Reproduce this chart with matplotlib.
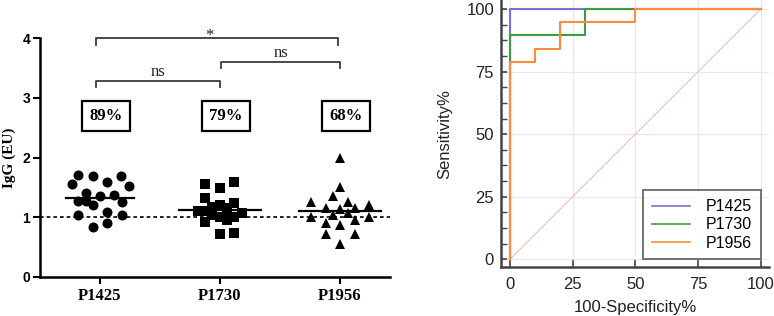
import matplotlib
matplotlib.use("Agg")
import matplotlib.pyplot as plt
import numpy as np

# ---- left panel data: IgG (EU) per peptide ----
groups = ["P1425", "P1730", "P1956"]
markers = ["o", "s", "^"]

p1425_dx = [-0.18, -0.06, 0.175, -0.235, 0.06, 0.24, -0.12, -0.18, 0.0,
            -0.06, 0.12, 0.18, -0.18, 0.06, 0.18, -0.06, 0.06, -0.12]
p1425_val = [1.71, 1.69, 1.70, 1.56, 1.59, 1.53, 1.40, 1.28, 1.35,
             1.20, 1.38, 1.26, 1.04, 1.09, 1.04, 0.83, 0.90, 1.27]

p1730_dx = [-0.125, 0.0, 0.12, -0.125, -0.18, -0.125, -0.065, 0.0, 0.055,
            0.12, 0.18, 0.0, 0.055, -0.065, 0.12, 0.0, 0.12, -0.125, 0.055]
p1730_val = [1.56, 1.49, 1.60, 1.32, 1.10, 0.93, 1.18, 1.21, 1.10,
             1.24, 1.07, 1.01, 0.96, 1.04, 1.01, 0.72, 0.74, 1.10, 1.15]

p1956_dx = [0.0, 0.0, -0.055, -0.24, 0.065, 0.245, -0.12, 0.125, 0.0,
            -0.24, 0.245, -0.055, 0.065, -0.12, 0.125, 0.0, -0.12, 0.125, 0.0]
p1956_val = [2.00, 1.50, 1.36, 1.25, 1.25, 1.21, 1.16, 1.16, 1.14,
             1.01, 1.01, 1.04, 1.07, 0.90, 0.96, 0.87, 0.72, 0.72, 0.55]

group_means = [1.32, 1.12, 1.10]
mean_halfwidth = [0.28, 0.34, 0.34]
positive_pct = ["89%", "79%", "68%"]
cutoff = 1.0

# significance brackets: (from, to, label, height)
brackets = [(0, 2, "*", 4.0), (1, 2, "ns", 3.61), (0, 1, "ns", 3.29)]

# ---- right panel data: ROC curves ----
roc_names = ["P1425", "P1730", "P1956"]
roc_colors = ["#7474d6", "#3c9e3c", "#ff8a3d"]
roc_fpr = [
    [0, 0, 100],
    [0, 0, 30, 30, 100],
    [0, 0, 10, 10, 20, 20, 50, 50, 100],
]
roc_tpr = [
    [0, 100, 100],
    [0, 89.47, 89.47, 100, 100],
    [0, 78.95, 78.95, 84.21, 84.21, 94.74, 94.74, 100, 100],
]

serif = ["Liberation Serif", "DejaVu Serif"]
sans = ["Liberation Sans", "DejaVu Sans"]

fig = plt.figure(figsize=(7.74, 3.16), dpi=100)

# ================= left panel =================
ax = fig.add_axes([40 / 774, 39 / 316, 350 / 774, 238.7 / 316])
xs = [p1425_dx, p1730_dx, p1956_dx]
ys = [p1425_val, p1730_val, p1956_val]
msizes = [7.2, 7.0, 7.6]
for i in range(3):
    ax.plot(i + np.array(xs[i]), ys[i], linestyle="none", marker=markers[i],
            markersize=msizes[i], color="black", markeredgewidth=0, zorder=3)
    hw = mean_halfwidth[i]
    ax.plot([i - hw, i + hw], [group_means[i]] * 2, color="black", lw=1.6,
            zorder=4)
    ax.text(i + 0.05, 2.69, positive_pct[i], ha="center", va="center",
            family=serif, fontweight="bold", fontsize=12,
            bbox=dict(boxstyle="square,pad=0.42", fc="white", ec="black",
                      lw=1.6))

ax.axhline(cutoff, color="black", lw=1.2, linestyle=(0, (2.2, 1.8)), zorder=2)

for a, b, lab, h in brackets:
    x0 = a - 0.03 if a == 0 else a + 0.01
    x1 = b - 0.02 if b == 2 and a == 0 else b
    ax.plot([x0, x0, x1, x1], [h - 0.11, h, h, h - 0.11], color="#3a3a3a",
            lw=1.3, clip_on=False)
    if lab == "*":
        ax.text((x0 + x1) / 2 - 0.06, h - 0.03, lab, ha="center",
                va="baseline", family=serif, fontsize=12, color="#222222")
    else:
        ax.text((x0 + x1) / 2, h + 0.075, lab, ha="center", va="baseline",
                family=serif, fontsize=12, color="#222222")

ax.set_xlim(-0.5, 2.417)
ax.set_ylim(0, 4)
ax.set_xticks(range(3))
ax.set_xticklabels(groups, family=serif, fontweight="bold", fontsize=12)
ax.set_yticks([0, 1, 2, 3, 4])
ax.set_yticklabels(["0", "1", "2", "3", "4"], family=sans, fontweight="bold",
                   fontsize=10)
ax.tick_params(axis="both", direction="out", length=5, width=1.5,
               color="black", pad=2)
ax.tick_params(axis="x", pad=3)
for s in ["top", "right"]:
    ax.spines[s].set_visible(False)
for s in ["left", "bottom"]:
    ax.spines[s].set_linewidth(1.8)
ax.set_ylabel("IgG (EU)", family=serif, fontweight="bold", fontsize=11,
              labelpad=5)

# ================= right panel =================
ax2 = fig.add_axes([501 / 774, (316 - 267.3) / 316, 268 / 774, 267.3 / 316])
ax2.plot([0, 100], [0, 100], color="#f0c4bc", lw=0.9, zorder=1)
for name, fx, ty, c in zip(roc_names, roc_fpr, roc_tpr, roc_colors):
    ax2.plot(fx, ty, color=c, lw=1.5, label=name, zorder=3)

ax2.set_xlim(-3.6, 103.3)
ax2.set_ylim(-3.2, 103.6)
ax2.set_xticks([0, 25, 50, 75, 100])
ax2.set_yticks([0, 25, 50, 75, 100])
ax2.set_yticks(np.arange(0, 100.1, 6.25), minor=True)
ax2.grid(True, which="major", color="#e8e8e8", lw=0.9, zorder=0)
ax2.set_axisbelow(True)
ax2.tick_params(axis="both", which="major", direction="in", length=6,
                width=1.2, color="#444444", labelsize=12, pad=7)
ax2.tick_params(axis="y", which="major", length=4, pad=5)
ax2.tick_params(axis="y", which="minor", direction="in", length=4,
                width=1.0, color="#444444")
for lab in ax2.get_xticklabels() + ax2.get_yticklabels():
    lab.set_family(sans)
    lab.set_color("#222222")
for s in ["top", "right"]:
    ax2.spines[s].set_visible(False)
for s in ["left", "bottom"]:
    ax2.spines[s].set_linewidth(1.8)
    ax2.spines[s].set_color("#444444")
ax2.set_xlabel("100-Specificity%", family=sans, fontsize=12, color="#222222",
               labelpad=6)
ax2.set_ylabel("Sensitivity%", family=sans, fontsize=12, color="#222222",
               labelpad=10)
leg = ax2.legend(loc="lower right", bbox_to_anchor=(100, 0),
                 bbox_transform=ax2.transData, borderaxespad=0,
                 prop={"family": sans, "size": 11.5}, frameon=True,
                 fancybox=False, edgecolor="#444444", handlelength=2.4,
                 handletextpad=1.0, labelspacing=0.2, borderpad=0.55)
leg.get_frame().set_linewidth(1.3)
for h in leg.get_lines():
    h.set_linewidth(1.2)

fig.savefig("out.png", dpi=100)
